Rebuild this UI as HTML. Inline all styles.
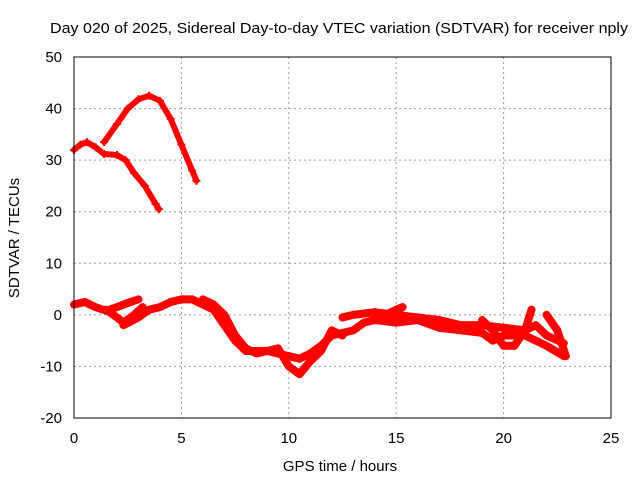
<!DOCTYPE html>
<html><head><meta charset="utf-8"><style>
body{margin:0;background:#fff;}
svg{display:block;font-family:"Liberation Sans",sans-serif;}
</style></head><body>
<svg id="c" width="640" height="480">
<rect x="0" y="0" width="640" height="480" fill="#fff"/>
<text x="339" y="33" font-size="15" text-anchor="middle" textLength="578" lengthAdjust="spacingAndGlyphs">Day 020 of 2025, Sidereal Day-to-day VTEC variation (SDTVAR) for receiver nply</text>
<text x="340" y="471" font-size="15" text-anchor="middle">GPS time / hours</text>
<text transform="translate(19,238) rotate(-90)" font-size="15" text-anchor="middle">SDTVAR / TECUs</text>
<g id="grid"></g><g id="ticks"></g><g id="series"></g>
<rect x="74" y="57" width="537" height="361" fill="none" stroke="#000" stroke-width="1"/>
</svg>
<script>
const xTicks=[0,5,10,15,20,25];
const yTicks=[-20,-10,0,10,20,30,40,50];
const s1X=[1.4,2,2.5,3,3.5,4,4.5,5,5.5,5.7];
const s1Y=[33.5,37,40,41.8,42.5,41.5,38,33,28,26];
const s2X=[0,0.3,0.6,1,1.4,2,2.4,2.8,3.3,3.8,3.95];
const s2Y=[32,33,33.5,32.5,31.2,31,30,27.5,25,21.5,20.5];
const s3X=[0,0.5,1,1.5,2,2.5,3];
const s3Y=[2,2.5,1.5,0.8,1.5,2.3,3];
const s4X=[1.5,2,2.3,2.8,3.2];
const s4Y=[1,-0.5,-1.5,0,1.5];
const s5X=[2.3,3,3.5,4,4.5,5,5.5,6,6.5,7,7.5,8,9,10,10.5,11,11.5,12,13,13.5,14,15,15.3];
const s5Y=[-2,-0.5,1,1.5,2.5,3,3,2,1,-2,-5,-7,-7,-8,-8.5,-7.5,-6,-4,-3,-1.5,-1,1,1.5];
const s6X=[6,6.5,7,7.5,8,8.5,9.5,10,10.5,11,11.5,12,12.5];
const s6Y=[3,2,0,-4,-6.5,-7.5,-6.5,-10,-11.5,-9,-7,-3,-4];
const s7X=[12.5,13,14,15,16,17,18,19,20,21,21.5,22,22.8];
const s7Y=[-0.5,0,0.5,0,-0.5,-1,-2,-2,-2.5,-3,-2,-4,-5.5];
const s8X=[14,15,16,17,18,19,19.5,20,21,22,22.8];
const s8Y=[-1,-1.5,-1,-2.5,-3,-3.5,-5,-4,-4,-6,-8];
const s9X=[19,19.5,20,20.5,21,21.3];
const s9Y=[-1,-3,-6,-6,-3,1];
const s10X=[22,22.5,22.9];
const s10Y=[0,-3,-8];
const NS="http://www.w3.org/2000/svg";
const X0=74,X1=611,Y0=418,Y1=57;
function sx(v){return X0+(v-0)/(25-0)*(X1-X0);}
function sy(v){return Y0-(v+20)/70*(Y0-Y1);}
function mk(t,a,p){const e=document.createElementNS(NS,t);for(const k in a)e.setAttribute(k,a[k]);(p||document.getElementById('series')).appendChild(e);return e;}
const g=document.getElementById('grid'),tk=document.getElementById('ticks');
xTicks.forEach(v=>{const x=sx(v);
 if(v>0&&v<25){const l=mk('line',{x1:x,x2:x,y1:Y1,y2:Y0,stroke:'#999','stroke-dasharray':'2,3'},g);}
 const t=mk('text',{x:x,y:443,'font-size':15,'text-anchor':'middle'},tk);t.textContent=v;
 
 });
yTicks.forEach(v=>{const y=sy(v);
 if(v>-20&&v<50){const l=mk('line',{x1:X0,x2:X1,y1:y,y2:y,stroke:'#999','stroke-dasharray':'2,3'},g);}
 const t=mk('text',{x:62,y:y+5,'font-size':15,'text-anchor':'end'},tk);t.textContent=v;
 
 });
const all=[[s1X,s1Y],[s2X,s2Y],[s3X,s3Y],[s4X,s4Y],[s5X,s5Y],[s6X,s6Y],[s7X,s7Y],[s8X,s8Y],[s9X,s9Y],[s10X,s10Y]];
all.forEach((s,i)=>{
 const pts=s[0].map((x,j)=>sx(x)+','+sy(s[1][j])).join(' ');
 const pl=mk('polyline',{points:pts,fill:'none',stroke:'#ff0000','stroke-width':i<2?6:8,'stroke-linejoin':'round','stroke-linecap':'round'});
 
 
 s[0].forEach((x,j)=>{const px=sx(x),py=sy(s[1][j]);
  const p=mk('path',{d:`M${px-4},${py}H${px+4}M${px},${py-4}V${py+4}`,stroke:'#ff0000','stroke-width':2});
  
  });
});
</script>
</body></html>
